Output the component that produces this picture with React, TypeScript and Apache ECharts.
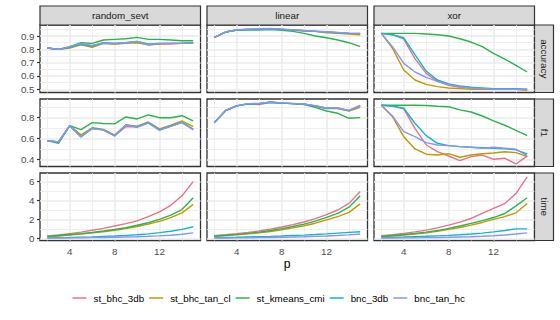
import React, { useEffect, useRef } from "react";
import * as echarts from "echarts";

const methods = ["st_bhc_3db", "st_bhc_tan_cl", "st_kmeans_cmi", "bnc_3db", "bnc_tan_hc"];
const methodColors = ["#E8728C", "#BD9C00", "#2DB34E", "#11B7C8", "#8A94F2"];
const datasets = ["random_sevt", "linear", "xor"];
const metrics = ["accuracy", "f1", "time"];
const pValues = [2, 3, 4, 5, 6, 7, 8, 9, 10, 11, 12, 13, 14, 15];

const xMajorTicks = [4, 8, 12];
const xMinorTicks = [2, 6, 10, 14];
const accuracyTicks = [0.5, 0.6, 0.7, 0.8, 0.9];
const accuracyMinor = [0.55, 0.65, 0.75, 0.85, 0.95];
const f1Ticks = [0.4, 0.6, 0.8];
const f1Minor = [0.5, 0.7, 0.9];
const timeTicks = [0, 2, 4, 6];
const timeMinor = [1, 3, 5];

// each panel: rows in method order
const accRandomSevt = [
  [0.81, 0.8, 0.815, 0.84, 0.82, 0.845, 0.84, 0.85, 0.855, 0.835, 0.84, 0.84, 0.845, 0.845],
  [0.81, 0.8, 0.81, 0.835, 0.815, 0.845, 0.84, 0.845, 0.85, 0.835, 0.84, 0.845, 0.845, 0.85],
  [0.81, 0.8, 0.82, 0.85, 0.845, 0.87, 0.875, 0.88, 0.89, 0.875, 0.875, 0.87, 0.865, 0.865],
  [0.81, 0.8, 0.815, 0.84, 0.825, 0.85, 0.845, 0.85, 0.86, 0.84, 0.845, 0.845, 0.845, 0.85],
  [0.81, 0.8, 0.82, 0.845, 0.83, 0.85, 0.845, 0.85, 0.86, 0.835, 0.845, 0.845, 0.845, 0.85],
];
const accLinear = [
  [0.89, 0.93, 0.945, 0.95, 0.95, 0.955, 0.95, 0.945, 0.94, 0.935, 0.93, 0.925, 0.92, 0.92],
  [0.89, 0.93, 0.945, 0.95, 0.95, 0.955, 0.95, 0.945, 0.94, 0.935, 0.925, 0.92, 0.915, 0.91],
  [0.89, 0.93, 0.945, 0.945, 0.946, 0.948, 0.944, 0.935, 0.92, 0.9, 0.887, 0.87, 0.85, 0.82],
  [0.89, 0.93, 0.945, 0.95, 0.952, 0.955, 0.95, 0.945, 0.94, 0.935, 0.93, 0.925, 0.92, 0.918],
  [0.89, 0.93, 0.947, 0.952, 0.955, 0.957, 0.952, 0.947, 0.942, 0.937, 0.932, 0.927, 0.922, 0.92],
];
const accXor = [
  [0.92, 0.91, 0.877, 0.73, 0.62, 0.56, 0.53, 0.515, 0.51, 0.505, 0.5, 0.5, 0.5, 0.495],
  [0.92, 0.807, 0.645, 0.57, 0.537, 0.52, 0.51, 0.505, 0.5, 0.5, 0.5, 0.5, 0.5, 0.495],
  [0.92, 0.92, 0.92, 0.92, 0.915, 0.91, 0.9, 0.88, 0.855, 0.82, 0.77, 0.727, 0.68, 0.63],
  [0.92, 0.91, 0.887, 0.76, 0.637, 0.57, 0.54, 0.525, 0.515, 0.51, 0.505, 0.505, 0.505, 0.5],
  [0.92, 0.82, 0.695, 0.63, 0.59, 0.56, 0.535, 0.52, 0.51, 0.505, 0.5, 0.5, 0.5, 0.5],
];
const f1RandomSevt = [
  [0.577, 0.565, 0.72, 0.615, 0.695, 0.68, 0.625, 0.71, 0.71, 0.749, 0.68, 0.717, 0.752, 0.686],
  [0.577, 0.565, 0.72, 0.632, 0.7, 0.685, 0.63, 0.727, 0.715, 0.755, 0.69, 0.725, 0.765, 0.71],
  [0.577, 0.552, 0.72, 0.682, 0.749, 0.74, 0.737, 0.803, 0.784, 0.822, 0.796, 0.796, 0.815, 0.765],
  [0.577, 0.565, 0.72, 0.615, 0.695, 0.68, 0.625, 0.727, 0.71, 0.749, 0.68, 0.717, 0.752, 0.686],
  [0.577, 0.565, 0.72, 0.612, 0.692, 0.678, 0.622, 0.725, 0.705, 0.745, 0.675, 0.713, 0.75, 0.68],
];
const f1Linear = [
  [0.749, 0.863, 0.908, 0.927, 0.92, 0.943, 0.935, 0.93, 0.925, 0.908, 0.886, 0.886, 0.863, 0.91],
  [0.749, 0.863, 0.908, 0.927, 0.93, 0.943, 0.935, 0.93, 0.925, 0.905, 0.883, 0.883, 0.86, 0.895],
  [0.749, 0.863, 0.908, 0.927, 0.93, 0.943, 0.935, 0.93, 0.92, 0.895, 0.86, 0.838, 0.79, 0.797],
  [0.749, 0.863, 0.908, 0.927, 0.93, 0.943, 0.935, 0.93, 0.925, 0.908, 0.886, 0.886, 0.863, 0.91],
  [0.749, 0.865, 0.91, 0.93, 0.932, 0.945, 0.937, 0.932, 0.927, 0.91, 0.888, 0.888, 0.865, 0.912],
];
const f1Xor = [
  [0.914, 0.905, 0.88, 0.695, 0.536, 0.472, 0.431, 0.387, 0.425, 0.44, 0.4, 0.41, 0.355, 0.43],
  [0.914, 0.806, 0.615, 0.498, 0.448, 0.44, 0.453, 0.419, 0.44, 0.453, 0.46, 0.472, 0.463, 0.425],
  [0.914, 0.914, 0.914, 0.914, 0.912, 0.905, 0.9, 0.87, 0.85, 0.812, 0.765, 0.724, 0.676, 0.625],
  [0.914, 0.908, 0.886, 0.743, 0.625, 0.552, 0.53, 0.52, 0.515, 0.51, 0.505, 0.5, 0.49, 0.45],
  [0.914, 0.812, 0.663, 0.615, 0.558, 0.536, 0.53, 0.52, 0.514, 0.505, 0.514, 0.505, 0.495, 0.434],
];
const timeRandomSevt = [
  [0.24, 0.35, 0.5, 0.65, 0.85, 1.05, 1.3, 1.55, 1.85, 2.3, 2.8, 3.5, 4.5, 6.0],
  [0.15, 0.25, 0.35, 0.45, 0.57, 0.7, 0.85, 1.02, 1.25, 1.5, 1.8, 2.2, 2.7, 3.6],
  [0.2, 0.3, 0.4, 0.5, 0.62, 0.77, 0.93, 1.12, 1.38, 1.65, 2.0, 2.45, 3.05, 4.3],
  [0.05, 0.07, 0.09, 0.12, 0.15, 0.2, 0.25, 0.31, 0.38, 0.47, 0.6, 0.75, 0.95, 1.22],
  [0.02, 0.03, 0.04, 0.05, 0.07, 0.09, 0.11, 0.14, 0.17, 0.21, 0.26, 0.33, 0.43, 0.58],
];
const timeLinear = [
  [0.28, 0.38, 0.5, 0.63, 0.78, 0.97, 1.2, 1.45, 1.73, 2.08, 2.5, 3.0, 3.7, 4.95],
  [0.2, 0.28, 0.37, 0.47, 0.58, 0.72, 0.9, 1.1, 1.33, 1.6, 1.95, 2.3, 2.75, 3.65],
  [0.25, 0.33, 0.42, 0.52, 0.65, 0.82, 1.03, 1.25, 1.5, 1.82, 2.22, 2.65, 3.3, 4.5],
  [0.07, 0.09, 0.11, 0.14, 0.17, 0.2, 0.24, 0.29, 0.34, 0.4, 0.47, 0.55, 0.63, 0.7],
  [0.02, 0.03, 0.04, 0.05, 0.07, 0.09, 0.11, 0.13, 0.16, 0.2, 0.24, 0.29, 0.36, 0.45],
];
const timeXor = [
  [0.27, 0.38, 0.52, 0.68, 0.87, 1.1, 1.4, 1.72, 2.1, 2.63, 3.16, 3.68, 4.74, 6.5],
  [0.15, 0.25, 0.35, 0.46, 0.58, 0.75, 0.95, 1.15, 1.4, 1.68, 2.0, 2.3, 2.7, 3.68],
  [0.2, 0.3, 0.4, 0.52, 0.65, 0.82, 1.05, 1.3, 1.58, 1.88, 2.2, 2.63, 3.43, 4.3],
  [0.07, 0.1, 0.13, 0.17, 0.21, 0.26, 0.31, 0.37, 0.45, 0.55, 0.68, 0.83, 1.0, 1.0],
  [0.02, 0.03, 0.04, 0.05, 0.07, 0.09, 0.11, 0.14, 0.17, 0.21, 0.27, 0.35, 0.45, 0.58],
];

const panelData = [
  [accRandomSevt, accLinear, accXor],
  [f1RandomSevt, f1Linear, f1Xor],
  [timeRandomSevt, timeLinear, timeXor],
];
const rowTicks = [accuracyTicks, f1Ticks, timeTicks];
const rowMinor = [accuracyMinor, f1Minor, timeMinor];
const rowMin = [0.476, 0.331, -0.233];
const rowMax = [0.983, 0.974, 6.92];

const gridLeft = [40, 207, 374];
const gridTop = [25, 99, 173];
const gridW = 160.5;
const gridH = 67.5;
const FONT = "'Liberation Sans', Arial, sans-serif";
const GRID_COL = "#EBEBEB";

export default function App() {
  const ref = useRef<HTMLDivElement>(null);
  useEffect(() => {
    if (!ref.current) return;
    const chart = echarts.init(ref.current, undefined, { renderer: "svg" });
    const grids: any[] = [];
    const xAxes: any[] = [];
    const yAxes: any[] = [];
    const series: any[] = [];
    for (let r = 0; r < 3; r++) {
      for (let c = 0; c < 3; c++) {
        const idx = r * 3 + c;
        grids.push({
          left: gridLeft[c],
          top: gridTop[r],
          width: gridW,
          height: gridH,
          show: true,
          backgroundColor: "#FFFFFF",
          borderColor: "#333333",
          borderWidth: 1.3,
          containLabel: false,
        });
        const bottomRow = r === 2;
        xAxes.push({
          type: "value",
          gridIndex: idx,
          min: 1.35,
          max: 15.65,
          axisLine: { show: false },
          splitLine: { show: false },
          axisTick: {
            show: bottomRow,
            length: 3,
            lineStyle: { color: "#333333", width: 1.2 },
            customValues: xMajorTicks,
          },
          axisLabel: {
            show: bottomRow,
            margin: 5.5,
            fontSize: 9.8,
            color: "#4D4D4D",
            fontFamily: FONT,
            customValues: xMajorTicks,
            formatter: (v: number) => String(v),
          },
          name: bottomRow && c === 1 ? "p" : "",
          nameLocation: "middle",
          nameGap: 17,
          nameMoveOverlap: false,
          nameTextStyle: { fontSize: 12.2, color: "#000000", fontFamily: FONT },
        });
        const leftCol = c === 0;
        yAxes.push({
          type: "value",
          gridIndex: idx,
          min: rowMin[r],
          max: rowMax[r],
          axisLine: { show: false },
          splitLine: { show: false },
          axisTick: {
            show: leftCol,
            length: 3,
            lineStyle: { color: "#333333", width: 1.2 },
            customValues: rowTicks[r],
          },
          axisLabel: {
            show: leftCol,
            margin: 5.5,
            fontSize: 9.8,
            color: "#4D4D4D",
            fontFamily: FONT,
            customValues: rowTicks[r],
            formatter: (v: number) => (r === 2 ? String(Math.round(v)) : v.toFixed(1)),
          },
        });
        const gl: any[] = [];
        xMinorTicks.forEach((v) => gl.push({ xAxis: v, lineStyle: { color: GRID_COL, width: 0.8, type: "solid" } }));
        rowMinor[r].forEach((v) => gl.push({ yAxis: v, lineStyle: { color: GRID_COL, width: 0.8, type: "solid" } }));
        xMajorTicks.forEach((v) => gl.push({ xAxis: v, lineStyle: { color: GRID_COL, width: 1.5, type: "solid" } }));
        rowTicks[r].forEach((v) => gl.push({ yAxis: v, lineStyle: { color: GRID_COL, width: 1.5, type: "solid" } }));
        series.push({
          type: "line",
          xAxisIndex: idx,
          yAxisIndex: idx,
          data: [],
          silent: true,
          z: 1,
          markLine: {
            silent: true,
            z: 1,
            symbol: ["none", "none"],
            label: { show: false },
            emphasis: { disabled: true },
            data: gl,
          },
        });
        const pd = panelData[r][c];
        methods.forEach((m, mi) => {
          series.push({
            type: "line",
            name: m,
            xAxisIndex: idx,
            yAxisIndex: idx,
            data: pValues.map((p, i) => [p, pd[mi][i]]),
            showSymbol: false,
            symbol: "none",
            silent: true,
            z: 3 + mi,
            color: methodColors[mi],
            lineStyle: { width: 1.4, color: methodColors[mi] },
          });
        });
      }
    }
    const graphics: any[] = [];
    datasets.forEach((d, c) => {
      graphics.push({
        type: "rect",
        shape: { x: gridLeft[c], y: 6, width: gridW, height: 19 },
        style: { fill: "#D9D9D9", stroke: "#333333", lineWidth: 1.2 },
      });
      graphics.push({
        type: "text",
        x: gridLeft[c] + gridW / 2,
        y: 15.5,
        style: { text: d, fontSize: 9.8, fill: "#1A1A1A", fontFamily: FONT, align: "center", verticalAlign: "middle" },
      });
    });
    metrics.forEach((m, r) => {
      graphics.push({
        type: "rect",
        shape: { x: 534.5, y: gridTop[r], width: 19, height: gridH },
        style: { fill: "#D9D9D9", stroke: "#333333", lineWidth: 1.2 },
      });
      graphics.push({
        type: "text",
        x: 544,
        y: gridTop[r] + gridH / 2,
        rotation: -Math.PI / 2,
        style: { text: m, fontSize: 9.8, fill: "#1A1A1A", fontFamily: FONT, align: "center", verticalAlign: "middle" },
      });
    });
    chart.setOption({
      animation: false,
      textStyle: { fontFamily: FONT },
      grid: grids,
      xAxis: xAxes,
      yAxis: yAxes,
      series,
      graphic: graphics,
      legend: {
        data: methods,
        left: 72.5,
        top: 293,
        padding: 0,
        icon: "rect",
        itemWidth: 14,
        itemHeight: 1.5,
        itemGap: 5,
        selectedMode: false,
        textStyle: { fontSize: 9.8, color: "#000000", fontFamily: FONT, padding: [0, 0, 0, 2] },
      },
    });
    return () => chart.dispose();
  }, []);
  return <div ref={ref} style={{ position: "absolute", left: 0, top: 0, width: 560, height: 320 }} />;
}
